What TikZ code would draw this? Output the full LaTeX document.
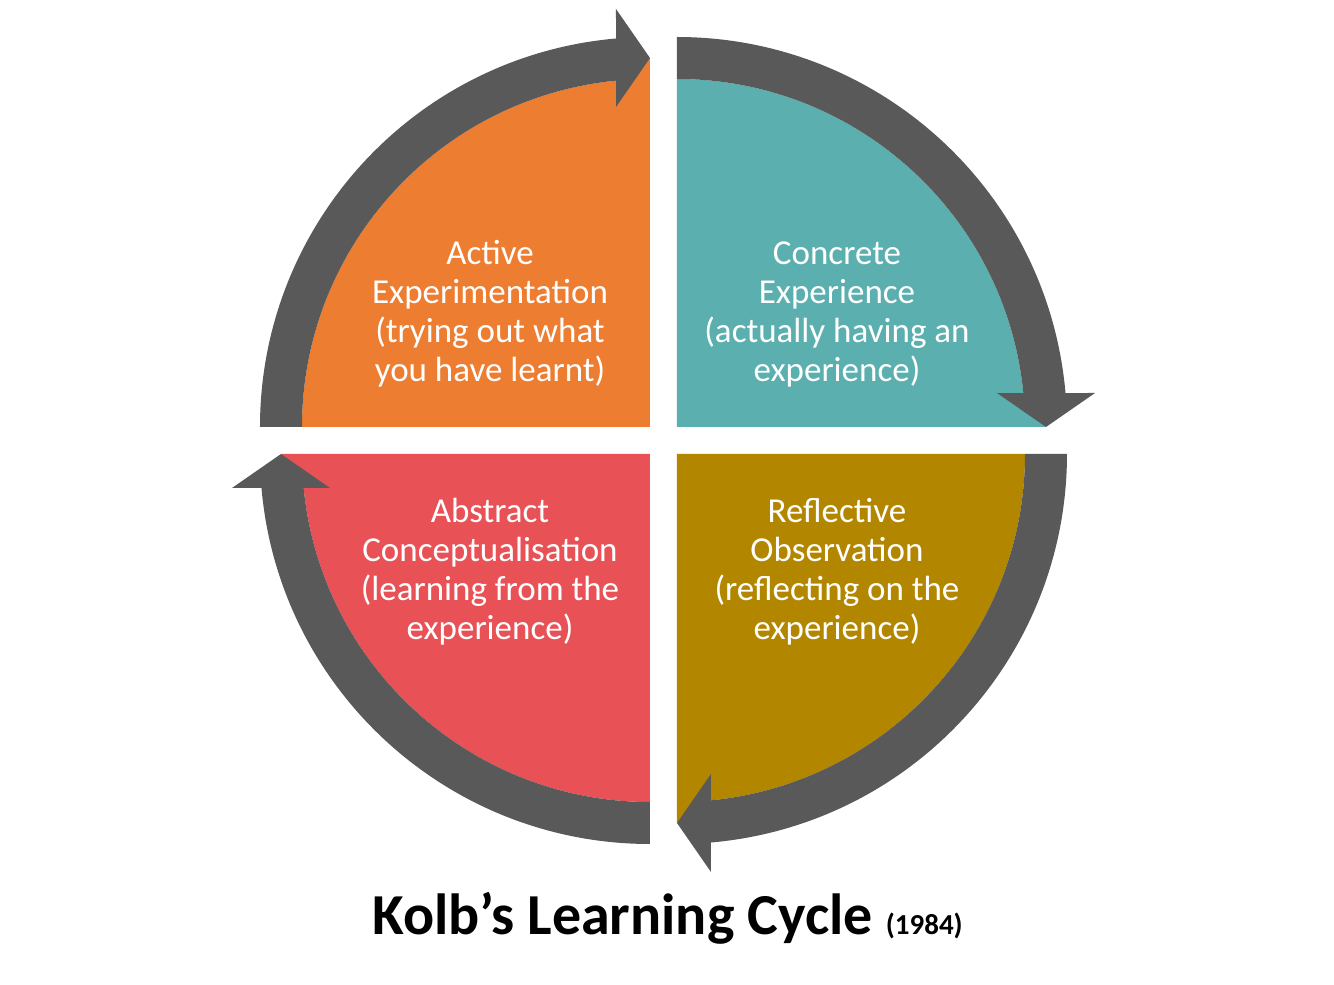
\documentclass[tikz,border=0pt]{standalone}
\usepackage{fontspec}
\setmainfont{Carlito}

\definecolor{ceteal}{HTML}{5BB0AF}
\definecolor{rogold}{HTML}{B38600}
\definecolor{acred}{HTML}{E85155}
\definecolor{aeorange}{HTML}{ED7D31}
\definecolor{ringgray}{HTML}{595959}

\tikzset{
  quadtext/.style={text=white, align=center, font=\fontsize{35}{39}\selectfont},
}

\begin{document}
\begin{tikzpicture}[x=1pt, y=1pt]
    \useasboundingbox (-663.5,-544.5) rectangle (670.5,440.5);
    % one quarter and its arrow, turned four times
    \foreach \turn/\col in {0/ceteal, -90/rogold, -180/acred, -270/aeorange} {
        \begin{scope}[rotate=\turn, shift={(13.5,13.5)}]
            \fill[\col] (0,0) -- (0,348) arc[start angle=90, end angle=5.6, radius=348] -- (369,0) -- cycle;
            \fill[ringgray] (0,348) -- (0,390) arc[start angle=90, end angle=5, radius=390]
                -- (418,34) -- (369,0) -- (320,34) -- (5.6:348)
                arc[start angle=5.6, end angle=90, radius=348] -- cycle;
        \end{scope}
    }
    \node[quadtext] (ce) at (173.5,126.5) {Concrete\\Experience\\(actually having an\\experience)};
    \node[quadtext] (ro) at (173.5,-131.5) {Reflective\\Observation\\(reflecting on the\\experience)};
    \node[quadtext] (ac) at (-173.5,-131.5) {Abstract\\Conceptualisation\\(learning from the\\experience)};
    \node[quadtext] (ae) at (-173.5,126.5) {Active\\Experimentation\\(trying out what\\you have learnt)};
    \node[anchor=base, font=\bfseries\fontsize{58}{60}\selectfont] (title) at (4,-493.5)
        {Kolb’s Learning Cycle {\fontsize{29}{30}\selectfont (1984)}};
\end{tikzpicture}
\end{document}
